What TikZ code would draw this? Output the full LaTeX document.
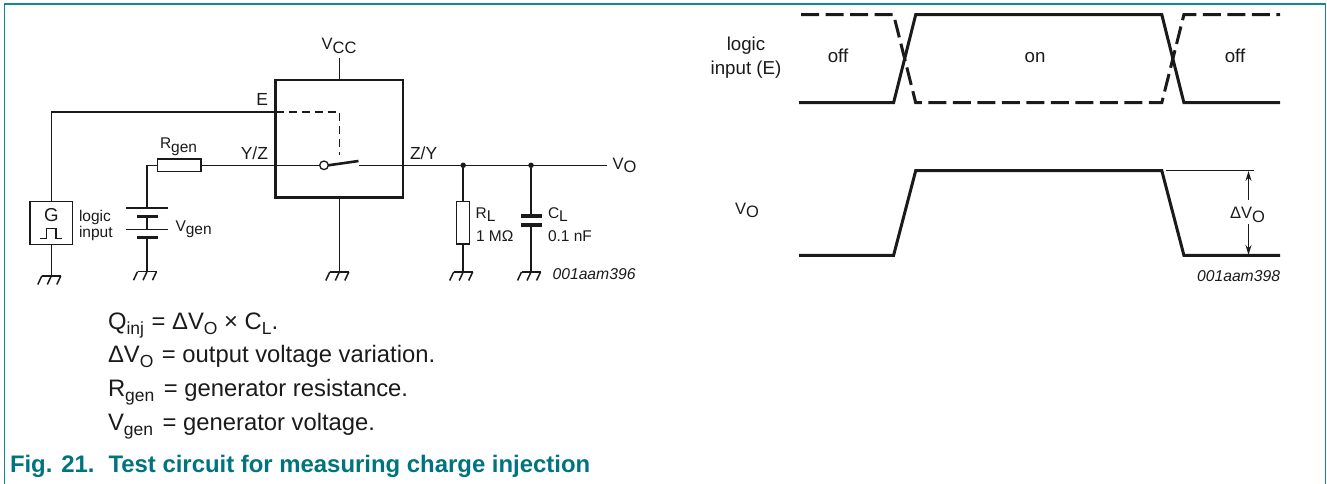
\documentclass[tikz,border=0pt]{standalone}
\usepackage{fontspec}
\setmainfont{Liberation Sans}
\usetikzlibrary{arrows.meta,calc}
\definecolor{frameteal}{HTML}{0F8A94}
\definecolor{capteal}{HTML}{00747E}
\definecolor{inkk}{HTML}{1A1A1A}
\newcommand{\lowr}[1]{\raisebox{-3.8pt}{#1}}
\newcommand{\lowb}[1]{\raisebox{-5pt}{\fontsize{17.5}{20}\selectfont #1}}
\tikzset{
  wire/.style={line width=1.5pt,draw=inkk},
  thick wire/.style={line width=3pt,draw=inkk},
  chip/.style={draw=inkk,line width=2.8pt,fill=none,inner sep=0pt,outer sep=0pt},
  comp/.style={draw=inkk,line width=1.4pt,fill=white,inner sep=0pt,outer sep=0pt},
  ctl/.style={line width=1.3pt,draw=inkk,dash pattern=on 8pt off 5pt},
  wavedash/.style={line width=3pt,draw=inkk,dash pattern=on 18pt off 6.5pt},
  plate/.style={line width=3.5pt,draw=inkk},
  junction/.style={circle,fill=inkk,inner sep=0pt,outer sep=0pt,minimum size=5.5pt},
  lab/.style={inner sep=0pt,outer sep=0pt,text=inkk,font=\fontsize{16.5}{18}\selectfont},
  lablg/.style={inner sep=0pt,outer sep=0pt,text=inkk,font=\fontsize{17.5}{18}\selectfont},
  wlab/.style={inner sep=0pt,outer sep=0pt,text=inkk,font=\fontsize{18.7}{20}\selectfont},
  small/.style={inner sep=0pt,outer sep=0pt,text=inkk,font=\fontsize{15.5}{18}\selectfont},
  tag/.style={inner sep=0pt,outer sep=0pt,text=inkk,font=\fontsize{15.7}{18}\selectfont\itshape},
  body/.style={inner sep=0pt,outer sep=0pt,text=inkk,font=\fontsize{23.8}{26}\selectfont},
  gnd/.pic={
    \draw[wire] (-9.5,0) -- (9.5,0);
    \draw[wire] (-9.5,0) -- (-13.5,8.5) (0,0) -- (-4,8.5) (9.5,0) -- (5.5,8.5);
  }
}
\begin{document}
\begin{tikzpicture}[x=1pt,y=-1pt]
\useasboundingbox (0,0) rectangle (1327,484);
\draw[frameteal,line width=1.2pt] (4.5,484) -- (4.5,4) -- (1325.8,4) -- (1325.8,484);

% ---- circuit parts
\node[chip,minimum width=127.5pt,minimum height=117.5pt] (chip) at (339.3,138.7) {};
\node[comp,minimum width=42.7pt,minimum height=42.6pt] (gen) at (51.3,223) {};
\node[comp,minimum width=43.3pt,minimum height=12.7pt] (rgen) at (179.3,165.3) {};
\node[comp,minimum width=13pt,minimum height=42.3pt] (rl) at (463.2,222.8) {};
\node[circle,draw=inkk,line width=1.3pt,fill=white,inner sep=0pt,outer sep=0pt,minimum size=8.6pt] (sw) at (324,165.3) {};
\node[junction] (j1) at (463.2,165.3) {};
\node[junction] (j2) at (531,165.3) {};

\coordinate (vcct) at (339.3,58);
\coordinate (swtip) at (358.5,161);
\coordinate (swend) at (358.5,165.3);
\coordinate (vo) at (606.7,165.3);
\coordinate (ctlend) at (339.3,155);
\coordinate (ctlc) at (339.3,112);
\coordinate (ein) at (chip.west |- ctlc);
\coordinate (ecorner) at (51.3,112);
\coordinate (rcorner) at (147,165.3);
\coordinate (yin) at (chip.west |- sw);

% grounds
\coordinate (g1) at (51.3,276);
\coordinate (g2) at (147,271.7);
\coordinate (g3) at (339.3,272);
\coordinate (g4) at (463.2,272);
\coordinate (g5) at (531,272);
\foreach \g in {g1,g2,g3,g4,g5} \pic at (\g) {gnd};

% battery
\coordinate (b1) at (147,208);
\coordinate (b2) at (147,216.7);
\coordinate (b3) at (147,229.3);
\coordinate (b4) at (147,237.7);
\draw[wire] (126,208) -- (168.3,208);
\draw[wire] (126,229.3) -- (168.3,229.3);
\draw[plate] (137,216.7) -- (158,216.7);
\draw[plate] (137,237.7) -- (158,237.7);
% capacitor
\coordinate (c1) at (531,216);
\coordinate (c2) at (531,225);
\draw[plate] (521,216) -- (542.3,216);
\draw[plate] (521,225) -- (542.3,225);

% connectors
\draw[wire] (gen.north) -- (ecorner) -- (ein);
\draw[ctl] (ein) -- (ctlc) -- (ctlend);
\draw[wire] (gen.south) -- (g1);
\draw[wire] (rgen.west) -- (rcorner) -- (b1);
\draw[wire] (b2) -- (b3);
\draw[wire] (b4) -- (g2);
\draw[wire] (rgen.east) -- (sw.west);
\draw[wire] (vcct) -- (chip.north -| vcct);
\draw[wire] (chip.south) -- (g3);
\draw[wire] (swend) -- (vo);
\draw[wire] (j1) -- (rl.north);
\draw[wire] (rl.south) -- (g4);
\draw[wire] (j2) -- (c1);
\draw[wire] (c2) -- (g5);
\draw[line width=2.6pt,draw=inkk] (sw.east) -- (swtip);
% pulse in generator
\draw[wire] (40,238.3) -- (46.7,238.3) -- (46.7,228.3) -- (56,228.3) -- (56,238.3) -- (62.3,238.3);

% circuit labels
\node[wlab,anchor=base] (gtxt) at (51.3,221.5) {G};
\node[small,anchor=base west] (li1) at (79,221) {logic};
\node[small,anchor=base west] (li2) at (79,237) {input};
\node[small,anchor=base west] (trg) at (160,148.3) {R\lowr{gen}};
\node[small,anchor=base west] (tvg) at (175.5,231) {V\lowr{gen}};
\node[lablg,anchor=base east] (te) at (268,105.3) {E};
\node[lablg,anchor=base east] (tyz) at (268,159) {Y/Z};
\node[lablg,anchor=base west] (tzy) at (410,159) {Z/Y};
\node[lab,anchor=base west] (tvcc) at (321.7,50) {V\lowr{CC}};
\node[lab,anchor=base west] (tvo) at (612.7,169) {V\lowr{O}};
\node[small,anchor=base west] (trl) at (475.7,218) {R\lowr{L}};
\node[small,anchor=base west] (trv) at (476,241) {1 MΩ};
\node[small,anchor=base west] (tcl) at (548,218) {C\lowr{L}};
\node[small,anchor=base west] (tcv) at (548,241) {0.1 nF};
\node[tag,anchor=base east] (tag1) at (635.5,279.5) {001aam396};

% waveforms
\coordinate (a0) at (799,102.7);
\coordinate (a1) at (893.6,102.7);
\coordinate (a2) at (915.7,14.7);
\coordinate (a3) at (1161.8,14.7);
\coordinate (a4) at (1183.9,102.7);
\coordinate (a5) at (1280,102.7);
\draw[thick wire,line join=miter] (a0) -- (a1) -- (a2) -- (a3) -- (a4) -- (a5);
\coordinate (d0) at (801,14.7);
\coordinate (d1) at (893.6,14.7);
\coordinate (d2) at (915.7,102.7);
\coordinate (d3) at (1161.8,102.7);
\coordinate (d4) at (1183.9,14.7);
\coordinate (d5) at (1280,14.7);
\draw[wavedash] (d0) -- (d1) -- (d2) -- (d3) -- (d4) -- (d5);
\coordinate (v0) at (799,255.3);
\coordinate (v1) at (893.6,255.3);
\coordinate (v2) at (915.7,170.7);
\coordinate (v3) at (1161.8,170.7);
\coordinate (v4) at (1183.9,255.3);
\coordinate (v5) at (1280,255.3);
\draw[thick wire,line join=miter] (v0) -- (v1) -- (v2) -- (v3) -- (v4) -- (v5);
\coordinate (r0) at (1166.4,170.3);
\coordinate (r1) at (1253.8,170.3);
\draw[line width=.9pt,draw=inkk] (r0) -- (r1);
\node[lab,anchor=base west] (dvo) at (1230,218.3) {ΔV\lowr{O}};
\coordinate (up) at (1248.5,171);
\coordinate (upb) at (1248.5,200);
\coordinate (dn) at (1248.5,255);
\coordinate (dnb) at (1248.5,224);
\draw[wire,-{Stealth[length=10pt,width=6pt]}] (upb) -- (up);
\draw[wire,-{Stealth[length=10pt,width=6pt]}] (dnb) -- (dn);

\node[wlab,anchor=base] (w1) at (746,50.5) {logic};
\node[wlab,anchor=base] (w2) at (746,74.5) {input (E)};
\node[wlab,anchor=base] (woff1) at (838,63) {off};
\node[wlab,anchor=base] (won) at (1035,63) {on};
\node[wlab,anchor=base] (woff2) at (1235,63) {off};
\node[lab,anchor=base west] (wvo) at (735,214) {V\lowr{O}};
\node[tag,anchor=base east] (tag2) at (1280,281) {001aam398};

% notes
\node[body,anchor=base west] (n1) at (108,329) {Q\lowb{inj}\kern1pt\ = ΔV\lowb{O} × C\lowb{L}.};
\node[body,anchor=base west] (n2) at (108,362.7) {ΔV\lowb{O}\kern2pt\ = output voltage variation.};
\node[body,anchor=base west] (n3) at (108,396.7) {R\lowb{gen}\kern3pt\ = generator resistance.};
\node[body,anchor=base west] (n4) at (108,430.7) {V\lowb{gen}\kern3pt\ = generator voltage.};
\node[inner sep=0pt,outer sep=0pt,anchor=base west,text=capteal,font=\fontsize{23.9}{26}\selectfont\bfseries] (cap) at (10,472.7) {Fig. 21.\hspace{14pt}Test circuit for measuring charge injection};
\end{tikzpicture}
\end{document}
